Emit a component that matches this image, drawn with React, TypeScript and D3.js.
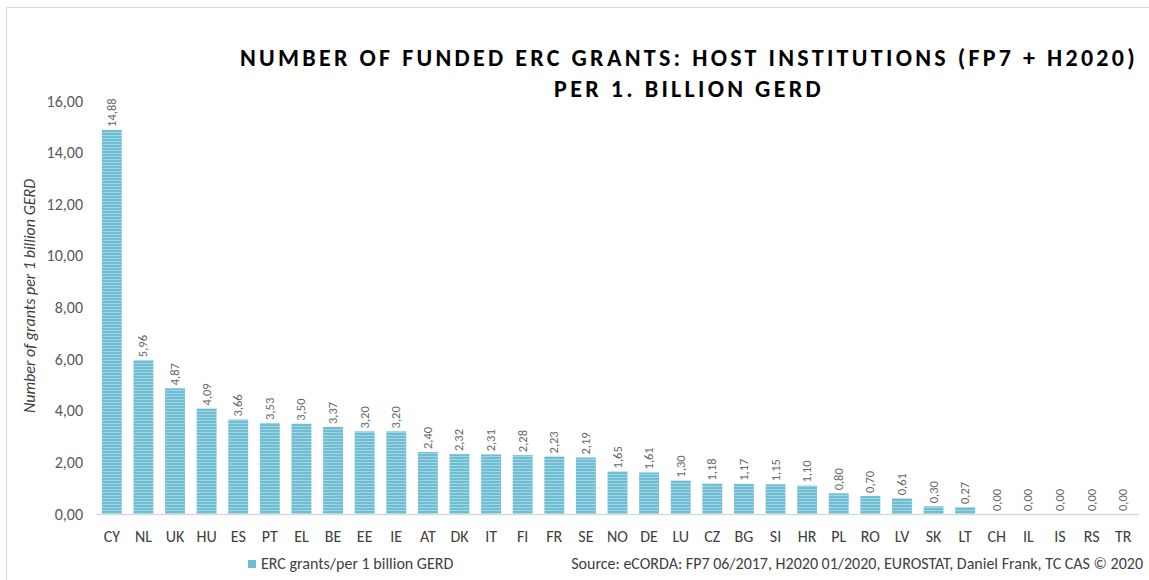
import React from 'react';
import { scaleBand, scaleLinear, format } from 'd3';

// countries in chart order
const countries = ['CY', 'NL', 'UK', 'HU', 'ES', 'PT', 'EL', 'BE', 'EE', 'IE', 'AT', 'DK', 'IT', 'FI', 'FR', 'SE', 'NO', 'DE', 'LU', 'CZ', 'BG', 'SI', 'HR', 'PL', 'RO', 'LV', 'SK', 'LT', 'CH', 'IL', 'IS', 'RS', 'TR'];
// ERC grants per 1 billion GERD
const grants = [14.88, 5.96, 4.87, 4.09, 3.66, 3.53, 3.5, 3.37, 3.2, 3.2, 2.4, 2.32, 2.31, 2.28, 2.23, 2.19, 1.65, 1.61, 1.3, 1.18, 1.17, 1.15, 1.1, 0.8, 0.7, 0.61, 0.3, 0.27, 0, 0, 0, 0, 0];
const yTicks = [0, 2, 4, 6, 8, 10, 12, 14, 16];

const titleLines = ['NUMBER OF FUNDED ERC GRANTS: HOST INSTITUTIONS (FP7 + H2020)', 'PER 1. BILLION GERD'];
const legendLabel = 'ERC grants/per 1 billion GERD';
const sourceNote = 'Source: eCORDA: FP7 06/2017, H2020 01/2020, EUROSTAT, Daniel Frank, TC CAS \u00A9 2020';

const W = 1149;
const H = 580;
const margin = { top: 101, right: 10, bottom: 66, left: 96 };
const font = 'Carlito, Calibri, "Open Sans", sans-serif';

// comma decimals like the original
const fmt = (v: number) => format('.2f')(v).replace('.', ',');

const App = () => {
  const x = scaleBand<string>()
    .domain(countries)
    .range([margin.left, W - margin.right])
    .paddingInner(0.37)
    .paddingOuter(0.185);

  const y = scaleLinear()
    .domain([0, 16])
    .range([H - margin.bottom, margin.top]);

  const base = y(0);

  return (
    <div>
      <style>{`body{margin:0}`}</style>
      <svg width={W} height={H} style={{ display: 'block', fontFamily: font }}>
        <defs>
          <pattern id="stripes" width="4" height="3" patternUnits="userSpaceOnUse">
            <rect width="4" height="3" fill="#6fbdd3" />
            <rect width="4" height="1" fill="#a3d6e4" />
          </pattern>
        </defs>
        <rect x={0} y={0} width={W} height={H} fill="#fff" />
        <rect x={6.5} y={7.5} width={W + 10} height={H + 10} fill="none" stroke="#d9d9d9" />

        {titleLines.map((t, i) => (
          <text key={t} x={689} y={66 + i * 31} textAnchor="middle"
            fontSize={24} fontWeight="bold" letterSpacing={3.3} fill="#000">{t}</text>
        ))}

        {/* y ticks */}
        {yTicks.map(t => (
          <text key={t} x={83} y={y(t) + 5.5} textAnchor="end" fontSize={16} fill="#595959">{fmt(t)}</text>
        ))}
        <text transform={`translate(35,296) rotate(-90)`} textAnchor="middle"
          fontSize={16} fontStyle="italic" fill="#404040">Number of grants per 1 billion GERD</text>

        {/* bars */}
        {countries.map((c, i) => (
          <g key={c}>
            {grants[i] > 0 && (
              <rect x={x(c)} y={y(grants[i])} width={x.bandwidth()} height={base - y(grants[i])}
                fill="url(#stripes)" />
            )}
            <text transform={`translate(${(x(c) as number) + x.bandwidth() / 2 + 4},${y(grants[i]) - 3}) rotate(-90)`}
              fontSize={12.5} fill="#666">{fmt(grants[i])}</text>
            <text x={(x(c) as number) + x.bandwidth() / 2} y={base + 28} textAnchor="middle"
              fontSize={16} fill="#404040">{c}</text>
          </g>
        ))}
        <line x1={margin.left} x2={W - margin.right} y1={base + 0.5} y2={base + 0.5} stroke="#d9d9d9" strokeWidth={1.5} />

        {/* legend + source */}
        <rect x={248} y={560} width={8} height={8} fill="#6fbdd3" />
        <text x={261} y={569} fontSize={16} fill="#404040">{legendLabel}</text>
        <text x={1143} y={569} textAnchor="end" fontSize={16} fill="#404040">{sourceNote}</text>
      </svg>
    </div>
  );
};

export default App;
